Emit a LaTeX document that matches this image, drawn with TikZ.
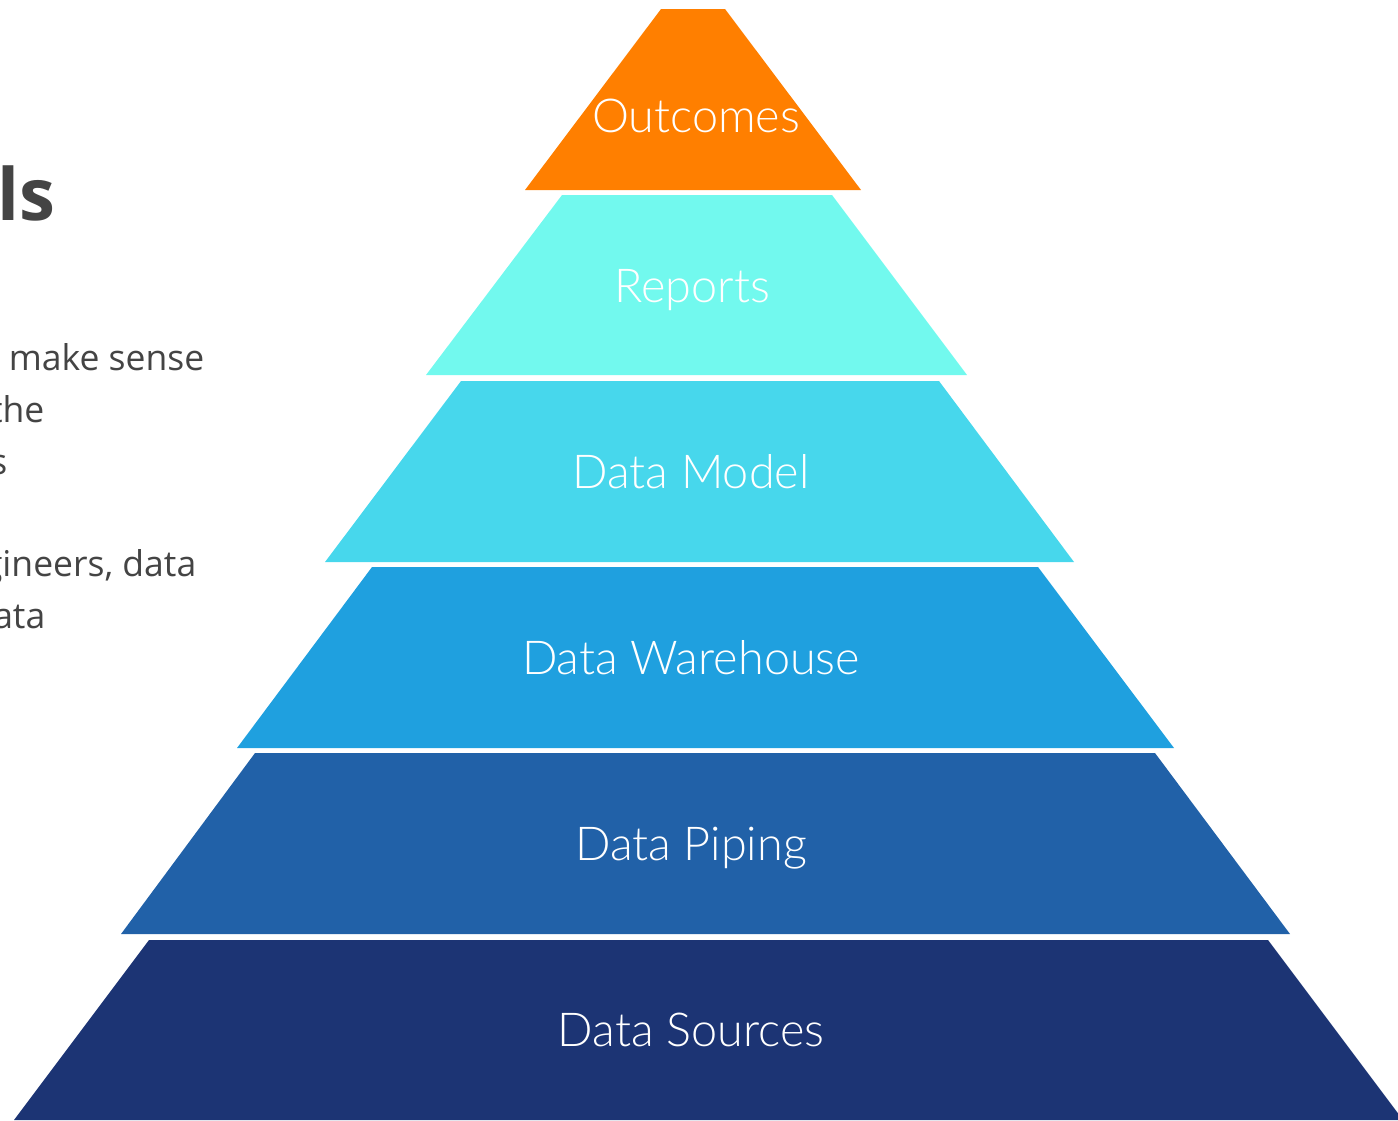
\documentclass[tikz,border=0pt]{standalone}
\usepackage{fontspec}
\setmainfont{Open Sans}
\newfontfamily\layerfont{Lato Light}
\definecolor{outcomecol}{HTML}{FF7F00}
\definecolor{reportcol}{HTML}{72F9EE}
\definecolor{modelcol}{HTML}{47D7EC}
\definecolor{warecol}{HTML}{1FA0DF}
\definecolor{pipecol}{HTML}{2161A8}
\definecolor{sourcecol}{HTML}{1C3474}
\definecolor{textgray}{HTML}{444444}
\begin{document}
\begin{tikzpicture}[x=0.01cm,y=-0.01cm,
lbl/.style={text=white,inner sep=0pt,anchor=base,font=\layerfont\fontsize{13.3}{16}\selectfont},
body/.style={text=textgray,inner sep=0pt,anchor=base east,font=\fontsize{10.1}{12}\selectfont}]
\useasboundingbox (0,0) rectangle (1398,1120);
\clip (0,0) rectangle (1398,1120);
% left column, cut by the page edge
\node[text=textgray,inner sep=0pt,anchor=base east,font=\bfseries\fontsize{20.5}{24}\selectfont] (title) at (56,220) {ls};
\node[body] (line1) at (205,370) {make sense};
\node[body] (line2) at (45,422) {the};
\node[body] (line3) at (8,474) {s};
\node[body] (line4) at (197,576) {gineers, data};
\node[body] (line5) at (46,628) {ata};
% pyramid layers
\fill[outcomecol] (661,9)--(725,9)--(861,190)--(525,190)--cycle;
\fill[reportcol] (562,195)--(832,195)--(967,375)--(426,375)--cycle;
\fill[modelcol] (461,381)--(939,381)--(1074,562)--(325,562)--cycle;
\fill[warecol] (372,567)--(1038,567)--(1174,748)--(237,748)--cycle;
\fill[pipecol] (255,753)--(1155,753)--(1290,934)--(121,934)--cycle;
\fill[sourcecol] (149,940)--(1268,940)--(1403,1120)--(14,1120)--cycle;
\node[lbl] (outcomes) at (696,132) {Outcomes};
\node[lbl] (reports) at (692,302) {Reports};
\node[lbl] (model) at (691,488) {Data Model};
\node[lbl] (warehouse) at (691,674) {Data Warehouse};
\node[lbl] (piping) at (691,860) {Data Piping};
\node[lbl] (sources) at (691,1046) {Data Sources};
\end{tikzpicture}
\end{document}
